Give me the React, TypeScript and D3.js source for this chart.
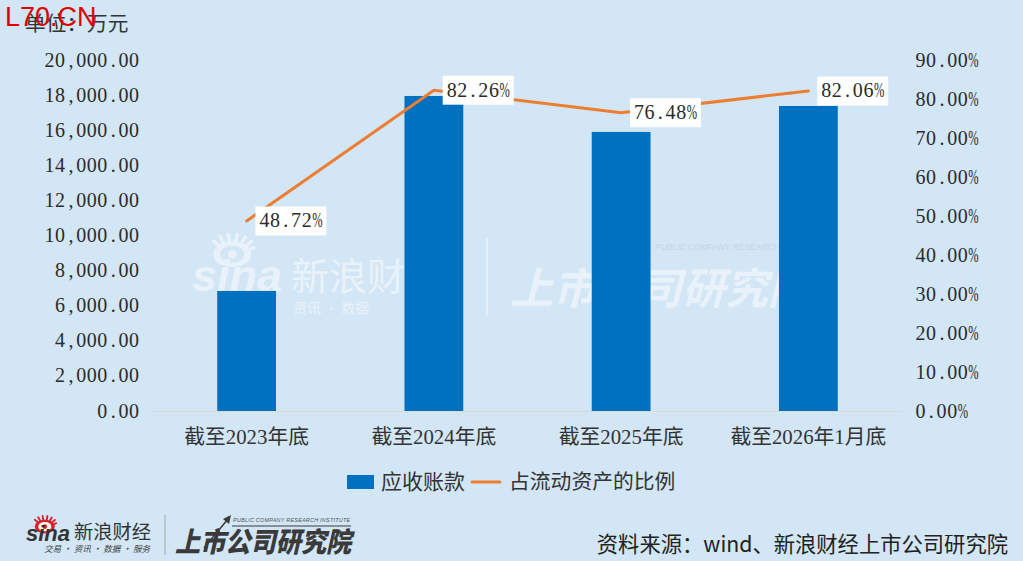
import React, { useEffect, useRef } from "react";
import * as d3 from "d3";

const categories = ["截至2023年底", "截至2024年底", "截至2025年底", "截至2026年1月底"];
const receivables = [6840, 17950, 15900, 17380];
const ratio = [48.72, 82.26, 76.48, 82.06];
const leftTicks = [0, 2000, 4000, 6000, 8000, 10000, 12000, 14000, 16000, 18000, 20000];
const rightTicks = [0, 10, 20, 30, 40, 50, 60, 70, 80, 90];

const W = 1023, H = 561;
const BG = "#d2e6f5", BLUE = "#0070c0", ORANGE = "#ed7d31", WM = "#e9f2fa";
const SERIF = "'Liberation Serif', serif";
const SANS = "'Liberation Sans', sans-serif";
const NOTO = "'Noto Sans CJK SC', sans-serif";
const CJK = `'Liberation Serif', ${NOTO}`;
const CHAR_W = 10.55;

type Sel = d3.Selection<any, any, any, any>;

// the original font has fixed width digits, so each glyph gets its own x
function mono(parent: Sel, s: string, x: number, y: number) {
	const body = s.replace("%", "");
	const xs = body
		.split("")
		.map((c, i) => x + i * CHAR_W + (c === "." || c === "," ? 2.8 : 0))
		.join(" ");
	parent.append("text").attr("x", xs).attr("y", y)
		.attr("font-family", SERIF).attr("font-size", 20).attr("fill", "#2b2b2b").text(body);
	if (s.endsWith("%")) {
		// half width percent sign
		parent.append("text").attr("transform", `translate(${x + body.length * CHAR_W},${y}) scale(0.62,1)`)
			.attr("font-family", SERIF).attr("font-size", 20).attr("fill", "#2b2b2b").text("%");
	}
}

function sinaMark(g: Sel, color: string, eye: string) {
	// lashes
	d3.range(7).forEach((i) => {
		const a = -2.6 + i * 0.42;
		g.append("line")
			.attr("x1", 15 + Math.cos(a) * 10).attr("y1", 10 + Math.sin(a) * 6)
			.attr("x2", 15 + Math.cos(a) * 16).attr("y2", 8 + Math.sin(a) * 11)
			.attr("stroke", color).attr("stroke-width", 2.6).attr("stroke-linecap", "round");
	});
	g.append("ellipse").attr("cx", 15).attr("cy", 12).attr("rx", 14).attr("ry", 9.5).attr("fill", color);
	g.append("ellipse").attr("cx", 15).attr("cy", 12).attr("rx", 9).attr("ry", 6.5).attr("fill", eye);
	g.append("circle").attr("cx", 15).attr("cy", 12).attr("r", 3.2).attr("fill", color);
}

function draw(ref: SVGSVGElement | null) {
	if (!ref) return;
	const svg = d3.select(ref);
	svg.selectAll("*").remove();

	const x = d3.scaleBand<string>().domain(categories).range([153, 902]).paddingInner(0.686).paddingOuter(0.343);
	const yL = d3.scaleLinear().domain([0, 20000]).range([411, 60]);
	const yR = d3.scaleLinear().domain([0, 90]).range([411, 60]);
	const fmtL = d3.format(",.2f");
	const cx = (c: string) => (x(c) as number) + x.bandwidth() / 2;

	svg.append("rect").attr("width", W).attr("height", H).attr("fill", BG);

	// watermark, sits under the bars
	const wm = svg.append("g");
	sinaMark(wm.append("g").attr("transform", "translate(212,238) scale(1.35)"), WM, BG);
	wm.append("text").attr("x", 192).attr("y", 291).attr("font-family", SANS)
		.attr("font-size", 45).attr("font-weight", 700).attr("font-style", "italic").attr("fill", WM).text("sina");
	wm.append("text").attr("x", 291).attr("y", 290).attr("font-family", NOTO).attr("font-size", 38).attr("fill", WM).text("新浪财经");
	wm.append("text").attr("x", 293).attr("y", 313).attr("font-family", NOTO).attr("font-size", 14).attr("fill", WM).text("资讯 · 数据");
	wm.append("line").attr("x1", 487).attr("x2", 487).attr("y1", 238).attr("y2", 316).attr("stroke", WM).attr("stroke-width", 1.5);
	wm.append("text").attr("x", 510).attr("y", 304).attr("font-family", NOTO).attr("font-size", 43).attr("font-weight", 700)
		.attr("font-style", "italic").attr("fill", WM).text("上市公司研究院");
	wm.append("text").attr("x", 655).attr("y", 250).attr("font-family", SANS).attr("font-size", 8.5).attr("font-style", "italic")
		.attr("fill", "#c3d6e5").text("PUBLIC COMPANY RESEARCH INSTITUTE");

	// axis line
	svg.append("line").attr("x1", 153).attr("x2", 902).attr("y1", 411.5).attr("y2", 411.5).attr("stroke", "#d9d9d9").attr("stroke-width", 1);

	svg.append("g").selectAll("rect").data(categories).join("rect")
		.attr("x", (c) => x(c) as number)
		.attr("y", (_, i) => yL(receivables[i]))
		.attr("width", x.bandwidth())
		.attr("height", (_, i) => 411 - yL(receivables[i]))
		.attr("fill", BLUE);

	const line = d3.line<number>().x((_, i) => cx(categories[i])).y((d) => yR(d));
	svg.append("path").attr("d", line(ratio)).attr("fill", "none").attr("stroke", ORANGE).attr("stroke-width", 3).attr("stroke-linecap", "round");

	// point labels with white boxes
	ratio.forEach((v, i) => {
		const px = cx(categories[i]), py = yR(v);
		const bx = px + 8.8;
		svg.append("rect").attr("x", bx).attr("y", py - 14.5).attr("width", 71).attr("height", 29).attr("fill", "#fff");
		mono(svg, d3.format(".2f")(v) + "%", bx + 4, py + 6.5);
	});

	leftTicks.forEach((t) => {
		const s = fmtL(t);
		mono(svg, s, 139.5 - s.length * CHAR_W, yL(t) + 6.5);
	});
	rightTicks.forEach((t) => {
		mono(svg, d3.format(".2f")(t) + "%", 915.5, yR(t) + 6.5);
	});

	categories.forEach((c) => {
		svg.append("text").attr("x", cx(c)).attr("y", 444).attr("text-anchor", "middle")
			.attr("font-family", CJK).attr("font-size", 20.8).attr("fill", "#333").text(c);
	});

	svg.append("text").attr("x", 25).attr("y", 31).attr("font-family", NOTO).attr("font-size", 20.7).attr("fill", "#333").text("单位\uFF1A万元");
	svg.append("text").attr("x", 5).attr("y", 26).attr("font-family", SANS).attr("font-size", 27).attr("fill", "#e00000").text("L70.CN");

	// legend
	svg.append("rect").attr("x", 347).attr("y", 475).attr("width", 27).attr("height", 14).attr("fill", BLUE);
	svg.append("text").attr("x", 381).attr("y", 489).attr("font-family", CJK).attr("font-size", 21).attr("fill", "#333").text("应收账款");
	svg.append("line").attr("x1", 472).attr("x2", 500).attr("y1", 482).attr("y2", 482).attr("stroke", ORANGE).attr("stroke-width", 3).attr("stroke-linecap", "round");
	svg.append("text").attr("x", 509).attr("y", 489).attr("font-family", CJK).attr("font-size", 20.8).attr("fill", "#333").text("占流动资产的比例");

	// footer logos
	sinaMark(svg.append("g").attr("transform", "translate(34,518) scale(0.72)"), "#d8232a", "#fff");
	svg.append("text").attr("x", 26).attr("y", 541).attr("font-family", SANS).attr("font-size", 22).attr("font-weight", 700)
		.attr("font-style", "italic").attr("fill", "#333").text("sina");
	svg.append("text").attr("x", 74).attr("y", 539).attr("font-family", NOTO).attr("font-size", 19.3).attr("fill", "#333").text("新浪财经");
	svg.append("text").attr("x", 44).attr("y", 552).attr("font-family", NOTO).attr("font-size", 8.6).attr("font-style", "italic").attr("fill", "#444").text("交易 · 资讯 · 数据 · 服务");
	svg.append("line").attr("x1", 165).attr("x2", 165).attr("y1", 515).attr("y2", 555).attr("stroke", "#a5a5a5").attr("stroke-width", 1);
	svg.append("text").attr("x", 233).attr("y", 522).attr("font-family", SANS).attr("font-size", 5.5).attr("font-style", "italic").attr("letter-spacing", 0.2).attr("fill", "#555").text("PUBLIC COMPANY RESEARCH INSTITUTE");
	svg.append("line").attr("x1", 232).attr("x2", 351).attr("y1", 526).attr("y2", 526).attr("stroke", "#3a3a3a").attr("stroke-width", 1);
	svg.append("line").attr("x1", 204).attr("x2", 228).attr("y1", 548).attr("y2", 519).attr("stroke", "#3a3a3a").attr("stroke-width", 1.5);
	svg.append("path").attr("d", "M231,515L223,519L229,524Z").attr("fill", "#3a3a3a");
	svg.append("text").attr("transform", "translate(175,552) scale(1,1.1)").attr("font-family", NOTO).attr("font-size", 25.2).attr("font-weight", 900).attr("font-style", "italic").attr("fill", "#3a3a3a").text("上市公司研究院");

	svg.append("text").attr("x", 1008).attr("y", 552).attr("text-anchor", "end").attr("font-family", NOTO).attr("font-size", 21.3).attr("fill", "#222").text("资料来源\uFF1Awind、新浪财经上市公司研究院");
}

export default function App() {
	const ref = useRef<SVGSVGElement>(null);
	useEffect(() => {
		document.body.style.margin = "0";
		draw(ref.current);
	}, []);
	return <svg ref={ref} width={W} height={H} style={{ display: "block" }} />;
}
